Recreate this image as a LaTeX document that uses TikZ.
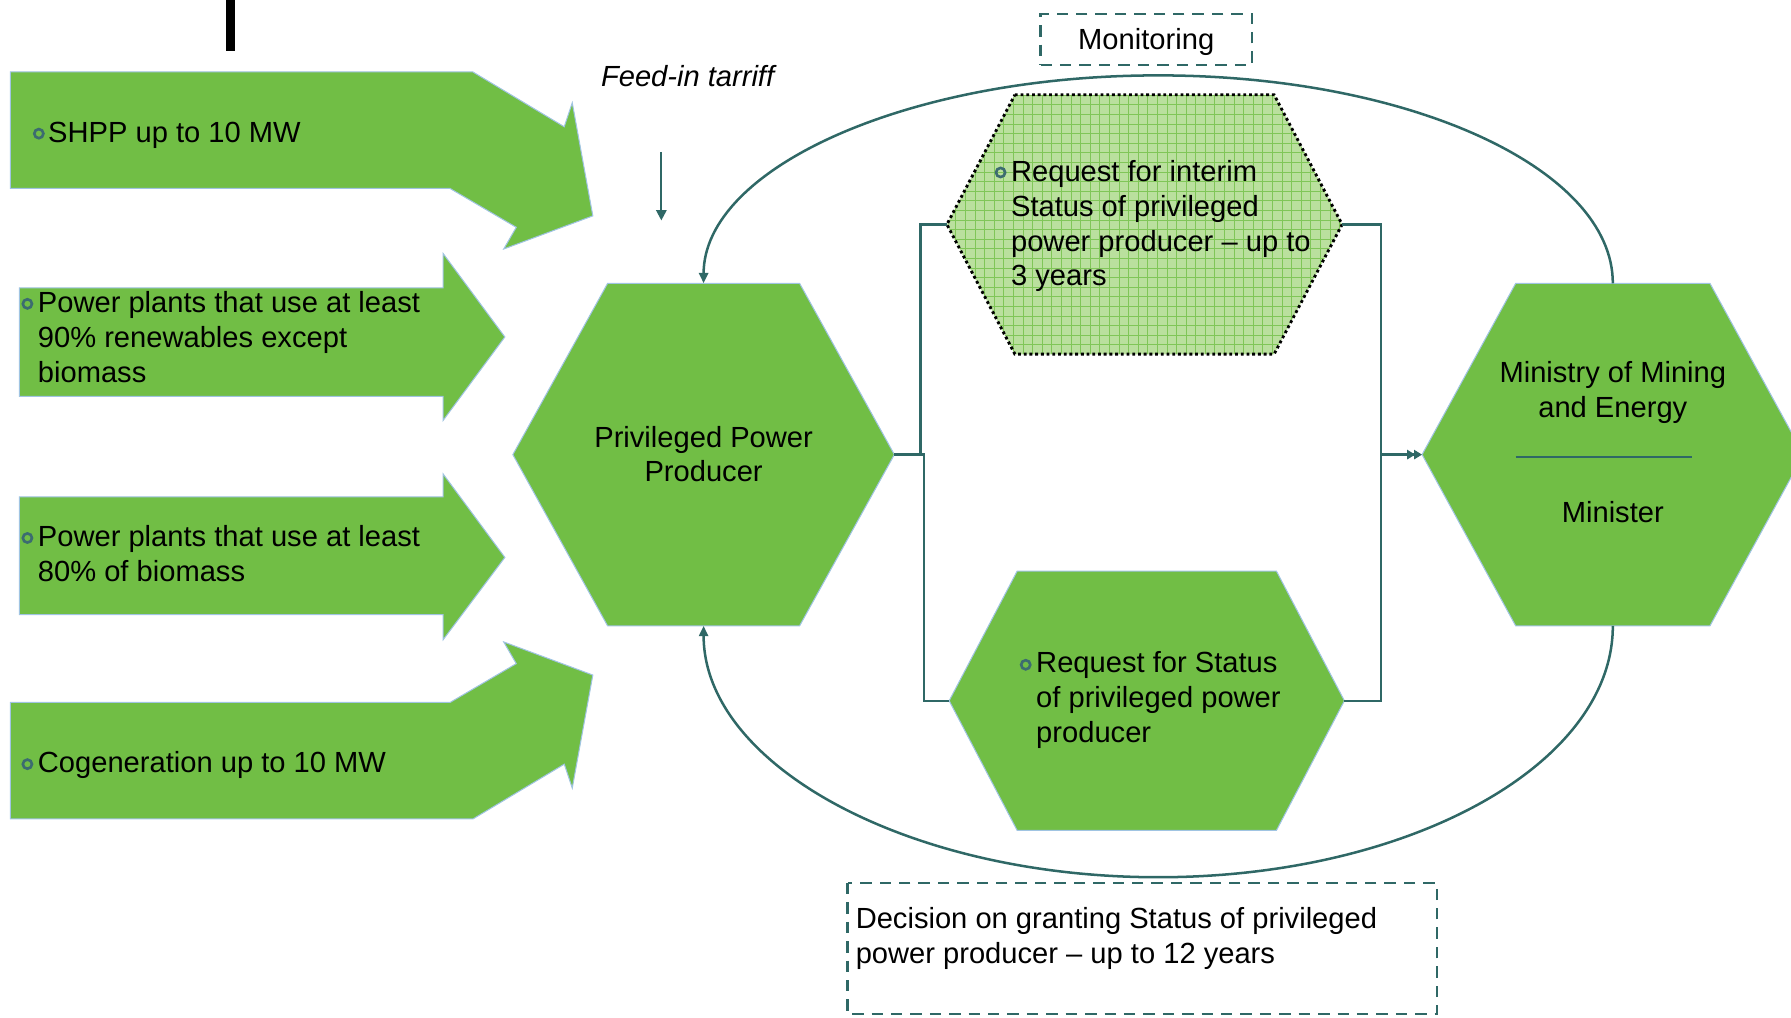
\documentclass[tikz,border=0pt]{standalone}
\usepackage{fontspec}
\setmainfont{Liberation Sans}
\usetikzlibrary{arrows.meta}
\definecolor{leaf}{RGB}{113,190,69}
\definecolor{leafedge}{RGB}{160,196,226}
\definecolor{connteal}{RGB}{47,104,102}
\definecolor{bullteal}{RGB}{60,108,112}
\definecolor{paleleaf}{RGB}{186,224,158}
\definecolor{gridleaf}{RGB}{128,198,88}
\newcommand\hexa[7]{%
  \path[#7] ({#2-#5},{#3-#6}) -- ({#2+#5},{#3-#6}) -- ({#2+#4},#3) -- ({#2+#5},{#3+#6}) -- ({#2-#5},{#3+#6}) -- ({#2-#4},#3) -- cycle;
  \coordinate (#1-w) at ({#2-#4},#3);
  \coordinate (#1-e) at ({#2+#4},#3);
  \coordinate (#1-n) at (#2,{#3-#6});
  \coordinate (#1-s) at (#2,{#3+#6});
}
\tikzset{
  greenshape/.style={fill=leaf, draw=leafedge, line width=0.9},
  conn/.style={draw=connteal, line width=2.2},
  tipA/.style={-{Triangle[length=9pt,width=8pt]}},
  tipB/.style={-{Triangle[length=7pt,width=8pt]}},
  txt/.style={font=\fontsize{25.5}{30.5}\selectfont, inner sep=0pt, text=black},
  lefttxt/.style={txt, align=left, anchor=west},
  ctrtxt/.style={txt, align=center, anchor=center},
  bull/.style={draw=bullteal, line width=2.3},
  dashbox/.style={draw=connteal, line width=2, dash pattern=on 10pt off 7pt},
  gridline/.style={draw=gridleaf, line width=0.7}
}
\begin{document}
\begin{tikzpicture}[x=1pt,y=-1pt]
\useasboundingbox (0,0) rectangle (1568,891);
\clip (0,0) rectangle (1568,891);

% black bar
\fill[black] (198,0) rectangle (206,45);

% input arrows
\path[greenshape] (9,63) -- (414,63) -- (494,111) -- (501,90) -- (519,189) -- (441,218) -- (452,199) -- (394,165) -- (9,165) -- cycle;
\path[greenshape] (17,252) -- (388,252) -- (388,222) -- (442,295) -- (388,368) -- (388,347) -- (17,347) -- cycle;
\path[greenshape] (17,435) -- (388,435) -- (388,415) -- (442,488) -- (388,560) -- (388,538) -- (17,538) -- cycle;
\path[greenshape] (9,717) -- (414,717) -- (494,669) -- (501,690) -- (519,591) -- (441,562) -- (452,581) -- (394,615) -- (9,615) -- cycle;

\node[lefttxt] (shpp) at (42,118.5) {\strut SHPP up to 10 MW\strut};
\node[lefttxt] (renew) at (33,298) {\strut Power plants that use at least\\90\% renewables except\\biomass\strut};
\node[lefttxt] (biom) at (33,488) {\strut Power plants that use at least\\80\% of biomass\strut};
\node[lefttxt] (cogen) at (33,670.5) {\strut Cogeneration up to 10 MW\strut};
\draw[bull] (34,117) circle[radius=4];
\draw[bull] (24,266) circle[radius=4];
\draw[bull] (24,471) circle[radius=4];
\draw[bull] (24,669) circle[radius=4];

% hexagons
\hexa{ppp}{616}{398}{167}{84}{150}{greenshape}
\hexa{bot}{1004}{613.5}{173}{113.5}{113.5}{greenshape}
\hexa{min}{1412}{398}{167}{85}{150}{greenshape}
\begin{scope}
  \clip (888.5,83) -- (1115.5,83) -- (1175,196.5) -- (1115.5,310) -- (888.5,310) -- (829,196.5) -- cycle;
  \fill[paleleaf] (820,75) rectangle (1185,320);
  \foreach \gx in {0,...,44} \draw[gridline] ({820+8.4*\gx},75) -- ++(0,250);
  \foreach \gy in {0,...,30} \draw[gridline] (820,{75+8.4*\gy}) -- ++(370,0);
\end{scope}
\hexa{top}{1002}{196.5}{173}{113.5}{113.5}{draw=black, line width=2.5, dash pattern=on 2.5pt off 2.5pt}

\node[ctrtxt] (pppt) at (616,400.5) {\strut Privileged Power\\Producer\strut};
\node[lefttxt] (topt) at (885,198.5) {\strut Request for interim\\Status of privileged\\power producer – up to\\3 years\strut};
\draw[bull] (876,151) circle[radius=4];
\node[lefttxt] (bott) at (907,613.5) {\strut Request for Status\\of privileged power\\producer\strut};
\draw[bull] (898,582) circle[radius=4];
\node[ctrtxt] (mint) at (1412,344) {\strut Ministry of Mining\\and Energy\strut};
\draw[conn] (1327,400) -- (1481,400);
\node[ctrtxt] (minister) at (1412,451.5) {\strut Minister\strut};

% labels and boxes
\node[dashbox, txt, minimum width=185, minimum height=45] (monit) at (1003.5,34.5) {\strut\raisebox{-3pt}{Monitoring}};
\node[ctrtxt, font=\fontsize{25.5}{30.5}\selectfont\itshape] (feed) at (602,69.5) {\strut Feed-in tarriff\strut};
\coordinate (fa) at (579,133);
\coordinate (fb) at (579,193);
\draw[conn, line width=1.7, -{Triangle[length=9pt,width=9pt]}] (fa) -- (fb);
\draw[dashbox] (742,773) rectangle (1258,888);
\node[lefttxt] (decis) at (749,822) {\strut Decision on granting Status of privileged\\power producer – up to 12 years\strut};

% connectors
\draw[conn, tipA] (min-n) arc[start angle=0, end angle=-180, x radius=398, y radius=182];
\draw[conn, tipA] (min-s) arc[start angle=0, end angle=180, x radius=398, y radius=220];
\draw[conn] (ppp-e) -- ++(23,0) |- (top-w);
\draw[conn] (ppp-e) -- ++(26,0) |- (bot-w);
\draw[conn, tipB] (top-e) -- ++(34,0) |- (min-w);
\draw[conn, tipB, shorten >=6pt] (bot-e) -- ++(32,0) |- (min-w);
\end{tikzpicture}
\end{document}
